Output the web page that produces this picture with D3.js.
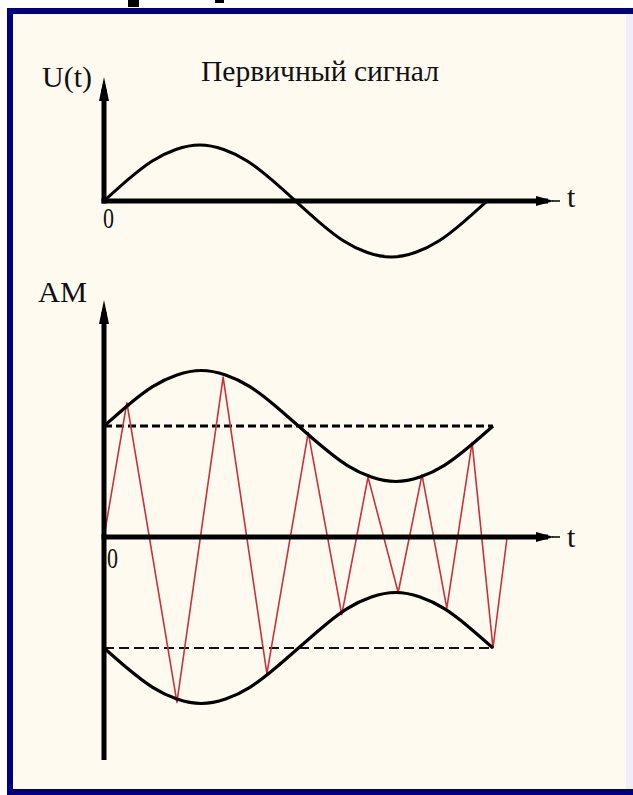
<!DOCTYPE html>
<html>
<head>
<meta charset="utf-8">
<script src="https://cdn.jsdelivr.net/npm/d3@7"></script>
<style>
  html, body { margin: 0; padding: 0; background: #ffffff; }
  svg { display: block; }
  text { font-family: "Liberation Serif", "DejaVu Serif", serif; fill: #111; }
</style>
</head>
<body>
<svg id="chart" width="633" height="795"></svg>
<script>
// Primary (message) signal U(t), sampled over one period (t in arbitrary units 0..8)
const signalT = [0, 0.5, 1, 1.5, 2, 2.5, 3, 3.5, 4, 4.5, 5, 5.5, 6, 6.5, 7, 7.5, 8];
const signalU = [0, 0.38, 0.71, 0.92, 1, 0.92, 0.71, 0.38, 0, -0.38, -0.71, -0.92, -1, -0.92, -0.71, -0.38, 0];

// Carrier level (dashed lines) and modulation depth of the AM signal
const carrierLevel = 1;
const modDepth = 0.5;

// AM (modulated carrier) vertices: time and instantaneous value
const amT = [0, 0.47, 1.50, 2.45, 3.35, 4.20, 4.89, 5.43, 6.05, 6.54, 7.05, 7.57, 8.00, 8.29];
const amV = [0, 1.21, -1.49, 1.44, -1.23, 0.94, -0.70, 0.54, -0.50, 0.56, -0.64, 0.85, -1.00, 0];

// Text labels
const titleTop = "Первичный сигнал";
const labelTopY = "U(t)";
const labelBotY = "AM";
const labelX = "t";
const labelOrigin = "0";

const svg = d3.select("#chart");

// Slide frame and background
svg.append("rect").attr("x", 7).attr("y", 8).attr("width", 640).attr("height", 787).attr("fill", "#000080");
svg.append("rect").attr("x", 13).attr("y", 14).attr("width", 630).attr("height", 775).attr("fill", "#fefaf0");
svg.append("rect").attr("x", 626).attr("y", 14).attr("width", 7).attr("height", 775).attr("fill", "#f0eff8");

// Bottom strokes of the slide heading above the frame
svg.append("rect").attr("x", 128).attr("y", 0).attr("width", 11).attr("height", 7).attr("fill", "#000");
svg.append("rect").attr("x", 215).attr("y", 0).attr("width", 9).attr("height", 3).attr("fill", "#000");

// Scales
const xTop = d3.scaleLinear().domain([0, 8]).range([104, 487]);
const yTop = d3.scaleLinear().domain([-1, 1]).range([257, 145]);
const xBot = d3.scaleLinear().domain([0, 8]).range([104, 493]);
const yBot = d3.scaleLinear().domain([-1, 1]).range([648, 426]);

// Axis helpers
function yArrowAxis(g, x, yFrom, yTip) {
  g.append("line").attr("x1", x).attr("x2", x).attr("y1", yFrom).attr("y2", yTip + 12)
    .attr("stroke", "#000").attr("stroke-width", 5);
  g.append("path")
    .attr("d", `M${x},${yTip} L${x - 5},${yTip + 24} L${x + 5},${yTip + 24} Z`)
    .attr("fill", "#000");
}
function xArrowAxis(g, y, xFrom, xTip) {
  g.append("line").attr("x1", xFrom - 2.5).attr("x2", xTip - 12).attr("y1", y).attr("y2", y)
    .attr("stroke", "#000").attr("stroke-width", 5);
  g.append("path")
    .attr("d", `M${xTip - 6},${y} L${xTip - 24},${y - 5} L${xTip - 24},${y + 5} Z`)
    .attr("fill", "#000");
  g.append("line").attr("x1", xTip - 8).attr("x2", xTip).attr("y1", y).attr("y2", y)
    .attr("stroke", "#000").attr("stroke-width", 1.5);
}

// ---------- Top panel: primary signal ----------
const topPanel = svg.append("g");
const signalLine = d3.line()
  .x((d, i) => xTop(signalT[i]))
  .y(d => yTop(d))
  .curve(d3.curveNatural);

topPanel.append("path").datum(signalU)
  .attr("d", signalLine)
  .attr("fill", "none").attr("stroke", "#000").attr("stroke-width", 3);

yArrowAxis(topPanel, xTop(0), yTop(0) + 2.5, 77);
xArrowAxis(topPanel, yTop(0), xTop(0), 560);

topPanel.append("text").attr("x", 201).attr("y", 81).attr("font-size", 30)
  .attr("textLength", 238).attr("lengthAdjust", "spacingAndGlyphs").text(titleTop);
topPanel.append("text").attr("x", 42).attr("y", 87).attr("font-size", 30)
  .attr("textLength", 50).attr("lengthAdjust", "spacingAndGlyphs").text(labelTopY);
topPanel.append("text").attr("x", 103).attr("y", 228).attr("font-size", 29)
  .attr("textLength", 11).attr("lengthAdjust", "spacingAndGlyphs").text(labelOrigin);
topPanel.append("text").attr("x", 567).attr("y", 207).attr("font-size", 30).text(labelX);

// ---------- Bottom panel: amplitude-modulated signal ----------
const botPanel = svg.append("g");

// Carrier level (unmodulated) dashed lines
botPanel.append("line")
  .attr("x1", xBot(0)).attr("x2", xBot(8))
  .attr("y1", yBot(carrierLevel)).attr("y2", yBot(carrierLevel))
  .attr("stroke", "#000").attr("stroke-width", 3.2).attr("stroke-dasharray", "8,4");
botPanel.append("line")
  .attr("x1", xBot(0)).attr("x2", xBot(8))
  .attr("y1", yBot(-carrierLevel)).attr("y2", yBot(-carrierLevel))
  .attr("stroke", "#111").attr("stroke-width", 2).attr("stroke-dasharray", "10,5");

// Modulated carrier
const amLine = d3.line()
  .x((d, i) => xBot(amT[i]))
  .y(d => yBot(d))
  .curve(d3.curveLinear);
botPanel.append("path").datum(amV)
  .attr("d", amLine)
  .attr("fill", "none").attr("stroke", "#c8323a").attr("stroke-width", 1.6)
  .attr("stroke-linejoin", "round");

// Envelopes follow the primary signal
const upperEnv = signalU.map(u => carrierLevel + modDepth * u);
const lowerEnv = signalU.map(u => -(carrierLevel + modDepth * u));
const envLine = d3.line()
  .x((d, i) => xBot(signalT[i]))
  .y(d => yBot(d))
  .curve(d3.curveNatural);
botPanel.append("path").datum(upperEnv).attr("d", envLine)
  .attr("fill", "none").attr("stroke", "#000").attr("stroke-width", 3.2);
botPanel.append("path").datum(lowerEnv).attr("d", envLine)
  .attr("fill", "none").attr("stroke", "#000").attr("stroke-width", 3.2);

yArrowAxis(botPanel, xBot(0), 760, 300);
xArrowAxis(botPanel, yBot(0), xBot(0), 560);

botPanel.append("text").attr("x", 38).attr("y", 302).attr("font-size", 30)
  .attr("textLength", 49).attr("lengthAdjust", "spacingAndGlyphs").text(labelBotY);
botPanel.append("text").attr("x", 107).attr("y", 568).attr("font-size", 29)
  .attr("textLength", 11).attr("lengthAdjust", "spacingAndGlyphs").text(labelOrigin);
botPanel.append("text").attr("x", 567).attr("y", 547).attr("font-size", 30).text(labelX);
</script>
</body>
</html>
